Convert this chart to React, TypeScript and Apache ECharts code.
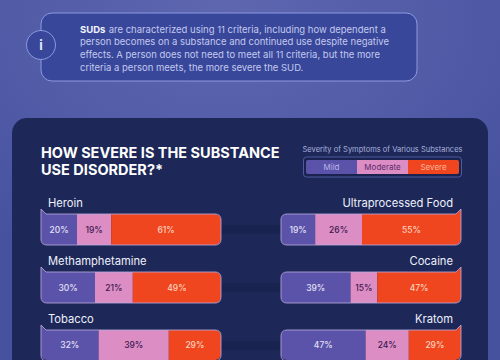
import React, { useEffect, useRef } from "react";
import * as echarts from "echarts";

const categories = ["Heroin", "Ultraprocessed Food", "Methamphetamine", "Cocaine", "Tobacco", "Kratom"];
const mild = [20, 19, 30, 39, 32, 47];
const moderate = [19, 26, 21, 15, 39, 24];
const severe = [61, 55, 49, 47, 29, 29];
const legendLabels = ["Mild", "Moderate", "Severe"];
const infoLines = [
  "are characterized using 11 criteria, including how dependent a",
  "person becomes on a substance and continued use despite negative",
  "effects. A person does not need to meet all 11 criteria, but the more",
  "criteria a person meets, the more severe the SUD.",
];
const titleLines = ["HOW SEVERE IS THE SUBSTANCE", "USE DISORDER?*"];
const legendTitle = "Severity of Symptoms of Various Substances";

const FONT = "Inter";
const C_MILD = "#5b53a9";
const C_MOD = "#dc8ec4";
const C_SEV = "#ef461f";
const ROW_TOPS = [214, 272, 330];
const BAR_W = 180;
const BAR_H = 31;
const COL_X = [41, 281];

echarts.graphic.registerShape(
  "barOutlineL",
  echarts.graphic.extendPath("M0 -5 L5 0 L174 0 Q180 0 180 6 L180 25 Q180 31 174 31 L6 31 Q0 31 0 25 Z", {})
);
echarts.graphic.registerShape(
  "barOutlineR",
  echarts.graphic.extendPath("M180 -5 L175 0 L6 0 Q0 0 0 6 L0 25 Q0 31 6 31 L174 31 Q180 31 180 25 Z", {})
);

function buildOption() {
  const grids: any[] = [];
  const xAxes: any[] = [];
  const yAxes: any[] = [];
  const series: any[] = [];
  const graphics: any[] = [];

  graphics.push({
    type: "rect",
    z: -10,
    shape: { x: 0, y: 0, width: 500, height: 360 },
    style: {
      fill: new echarts.graphic.RadialGradient(0.45, 0.05, 0.75, [
        { offset: 0, color: "#5e67b0" },
        { offset: 1, color: "#47529f" },
      ]),
    },
  });
  graphics.push({
    type: "rect",
    z: -9,
    shape: { x: 41, y: 13, width: 376, height: 68, r: 11 },
    style: { fill: "#38479a", stroke: "#8d99e0", lineWidth: 1 },
  });
  graphics.push({
    type: "circle",
    z: -8,
    shape: { cx: 41, cy: 45, r: 14.5 },
    style: { fill: "#38479a", stroke: "#8d99e0", lineWidth: 1 },
  });
  graphics.push({
    type: "text",
    z: -7,
    x: 41,
    y: 45,
    style: { text: "i", fill: "#e4e7f8", font: `700 13px ${FONT}`, textAlign: "center", textVerticalAlign: "middle" },
  });
  infoLines.forEach((line, i) => {
    graphics.push({
      type: "text",
      z: -7,
      x: 80,
      y: 29 + i * 12.7,
      style:
        i === 0
          ? {
              text: `{b|SUDs} {n|${line}}`,
              rich: {
                b: { fill: "#f3f4fc", font: `700 9.5px ${FONT}` },
                n: { fill: "#c3c9ee", font: `400 9.5px ${FONT}` },
              },
              textVerticalAlign: "middle",
            }
          : { text: line, fill: "#c3c9ee", font: `400 9.5px ${FONT}`, textVerticalAlign: "middle" },
    });
  });

  graphics.push({
    type: "rect",
    z: -6,
    shape: { x: 12, y: 118, width: 476, height: 270, r: 15 },
    style: { fill: "#1d2858" },
  });
  // faint shadows between the columns
  ROW_TOPS.forEach((t) => {
    graphics.push({
      type: "rect",
      z: -5,
      shape: { x: 221, y: t + 11, width: 60, height: 9 },
      style: { fill: "#19234f" },
    });
  });

  titleLines.forEach((line, i) => {
    graphics.push({
      type: "text",
      z: 5,
      x: 41,
      y: 152 + i * 17.5,
      style: { text: line, fill: "#ffffff", font: `700 14.5px ${FONT}`, textVerticalAlign: "middle" },
    });
  });

  graphics.push({
    type: "text",
    z: 5,
    x: 382.5,
    y: 149.5,
    style: { text: legendTitle, fill: "#aab2de", font: `400 7.5px ${FONT}`, textAlign: "center", textVerticalAlign: "middle" },
  });
  graphics.push({
    type: "rect",
    z: 4,
    shape: { x: 303.5, y: 157, width: 158, height: 20, r: 3 },
    style: { fill: "#1a2350", stroke: "#4f5a9c", lineWidth: 1 },
  });
  const legendFill = [C_MILD, C_MOD, C_SEV];
  const legendText = ["#b9b5e6", "#5b2a6e", "#f9b49a"];
  legendLabels.forEach((label, i) => {
    const r = i === 0 ? [2, 0, 0, 2] : i === 2 ? [0, 2, 2, 0] : 0;
    graphics.push({
      type: "rect",
      z: 5,
      shape: { x: 306 + i * 51, y: 160, width: 51, height: 14, r },
      style: { fill: legendFill[i] },
    });
    graphics.push({
      type: "text",
      z: 6,
      x: 331.5 + i * 51,
      y: 167,
      style: { text: label, fill: legendText[i], font: `400 8px ${FONT}`, textAlign: "center", textVerticalAlign: "middle" },
    });
  });

  categories.forEach((name, idx) => {
    const isRight = idx % 2 === 1;
    const top = ROW_TOPS[Math.floor(idx / 2)];
    const left = COL_X[isRight ? 1 : 0];
    const total = mild[idx] + moderate[idx] + severe[idx];
    grids.push({ left, top, width: BAR_W, height: BAR_H, containLabel: false });
    xAxes.push({ gridIndex: idx, type: "value", min: 0, max: total, show: false });
    yAxes.push({
      gridIndex: idx,
      type: "category",
      data: [name],
      position: isRight ? "right" : "left",
      axisLine: { show: false, onZero: false },
      axisTick: { show: false },
      axisLabel: { show: false },
      name,
      nameLocation: "end",
      nameGap: 6,
      nameTextStyle: {
        color: "#eef0fb",
        fontFamily: FONT,
        fontSize: 11.2,
        fontWeight: 400,
        align: isRight ? "right" : "left",
        padding: isRight ? [0, 8, 0, 0] : [0, 0, 0, 7],
      },
    });
    const rows = [
      { key: legendLabels[0], v: mild[idx], color: C_MILD, text: "#e3e1f6", r: isRight ? [6, 0, 0, 6] : [0, 0, 0, 6] },
      { key: legendLabels[1], v: moderate[idx], color: C_MOD, text: "#3d1650", r: 0 },
      { key: legendLabels[2], v: severe[idx], color: C_SEV, text: "#fbd3bf", r: isRight ? [0, 0, 6, 0] : [0, 6, 6, 0] },
    ];
    rows.forEach((s) => {
      series.push({
        type: "bar",
        name: s.key,
        xAxisIndex: idx,
        yAxisIndex: idx,
        stack: `row${idx}`,
        barWidth: "100%",
        data: [s.v],
        itemStyle: { color: s.color, borderRadius: s.r },
        label: {
          show: true,
          position: "inside",
          formatter: "{c}%",
          color: s.text,
          fontFamily: FONT,
          fontSize: 8.5,
          fontWeight: 500,
        },
      });
    });
    // corner tab in the colour of the outer segment, then the light outline on top
    graphics.push({
      type: isRight ? "barOutlineR" : "barOutlineL",
      x: left,
      y: top,
      z: 20,
      style: { fill: "none", stroke: "#b7a6dc", lineWidth: 1, opacity: 0.85 },
    });
    graphics.push({
      type: "polygon",
      z: 19,
      shape: {
        points: isRight
          ? [[left + BAR_W, top - 5], [left + BAR_W - 5, top + 0.5], [left + BAR_W, top + 0.5]]
          : [[left, top - 5], [left + 5, top + 0.5], [left, top + 0.5]],
      },
      style: { fill: isRight ? C_SEV : C_MILD },
    });
  });

  return {
    animation: false,
    backgroundColor: "#47529f",
    tooltip: { show: false },
    grid: grids,
    xAxis: xAxes,
    yAxis: yAxes,
    series,
    graphic: { elements: graphics },
  };
}

export default function App() {
  const ref = useRef<HTMLDivElement>(null);
  useEffect(() => {
    document.body.style.margin = "0";
    const chart = echarts.init(ref.current!, undefined, { renderer: "svg" });
    chart.setOption(buildOption());
    return () => chart.dispose();
  }, []);
  return <div ref={ref} style={{ width: 500, height: 360, overflow: "hidden" }} />;
}
